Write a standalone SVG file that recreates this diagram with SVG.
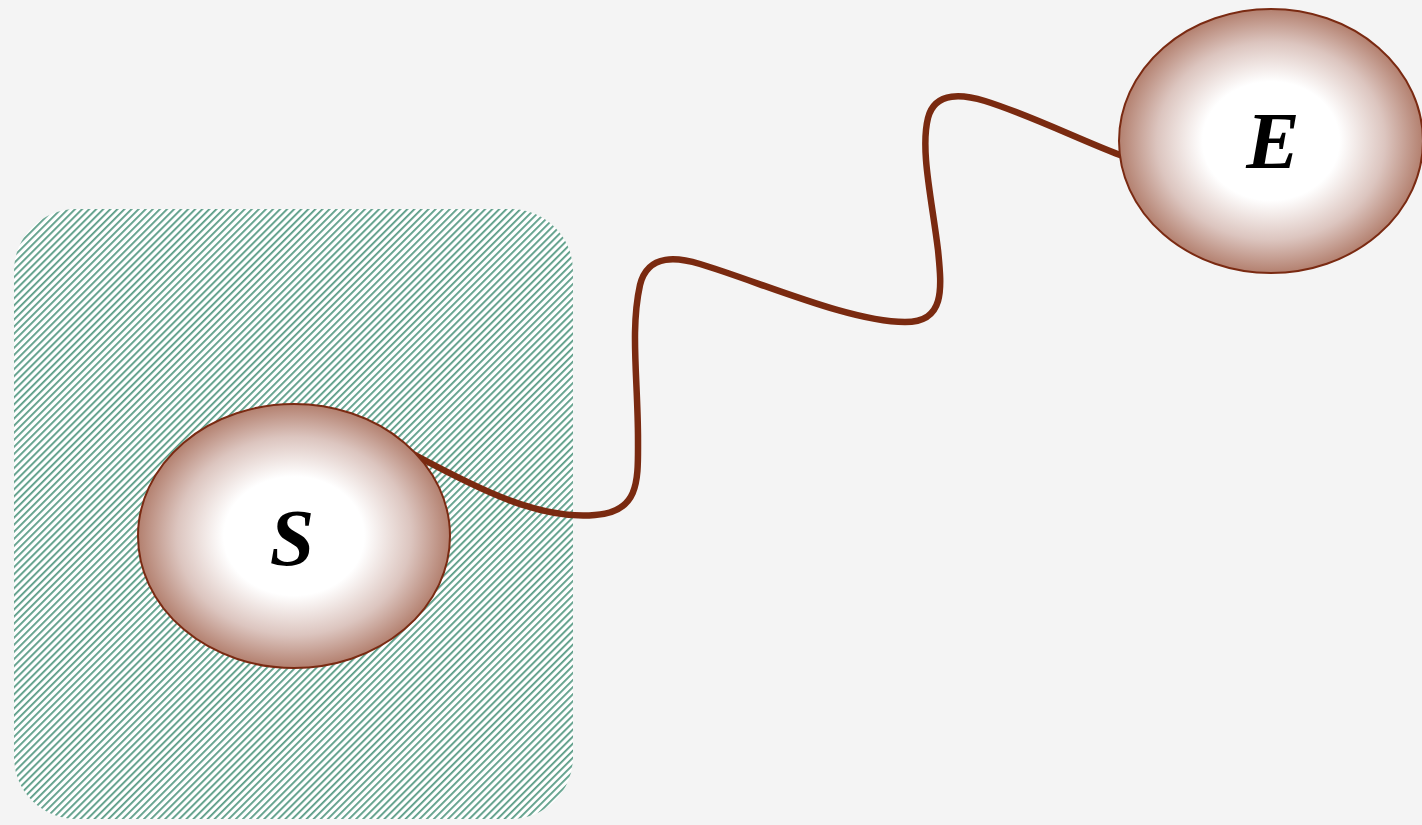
<svg xmlns="http://www.w3.org/2000/svg" width="1422" height="825" viewBox="0 0 1422 825">
  <defs>
    <pattern id="hatch" patternUnits="userSpaceOnUse" width="5" height="5" patternTransform="rotate(45)">
      <rect width="5" height="5" fill="#ffffff"/>
      <rect x="0" y="0" width="1.8" height="5" fill="#5a9c86"/>
    </pattern>
    <radialGradient id="ball" cx="50%" cy="50%" r="50%">
      <stop offset="0" stop-color="#ffffff"/>
      <stop offset="0.45" stop-color="#ffffff"/>
      <stop offset="0.75" stop-color="#dcc5bf"/>
      <stop offset="1" stop-color="#b3806f"/>
    </radialGradient>
    <style>
      .node ellipse { fill: url(#ball); stroke: #7a2a12; stroke-width: 2; }
      .node text { font-family: "Liberation Serif", "Times New Roman", serif; font-weight: bold; font-style: italic; font-size: 80px; fill: #000; text-anchor: middle; }
      .wire { fill: none; stroke: #7a2a10; stroke-width: 6.5; stroke-linecap: round; }
    </style>
  </defs>
  <rect width="1422" height="825" fill="#f4f4f4"/>
  <rect x="14" y="209" width="559" height="610" rx="62" ry="62" fill="url(#hatch)"/>
  <g id="connectors">
    <path class="wire" d="M415,455 C480,490 540,520 595,515 C640,512 638,480 638,440 C638,380 630,330 640,285 C648,252 680,258 700,264 C760,282 850,322 905,322 C945,322 942,290 938,250 C932,200 920,150 928,118 C935,90 965,95 985,101 C1030,115 1080,140 1120,155"/>
  </g>
  <g id="node-S" class="node">
    <ellipse cx="294" cy="536" rx="156" ry="132"/>
    <text x="292" y="565">S</text>
  </g>
  <g id="node-E" class="node">
    <ellipse cx="1271" cy="141" rx="152" ry="132"/>
    <text x="1273" y="168">E</text>
  </g>
</svg>
